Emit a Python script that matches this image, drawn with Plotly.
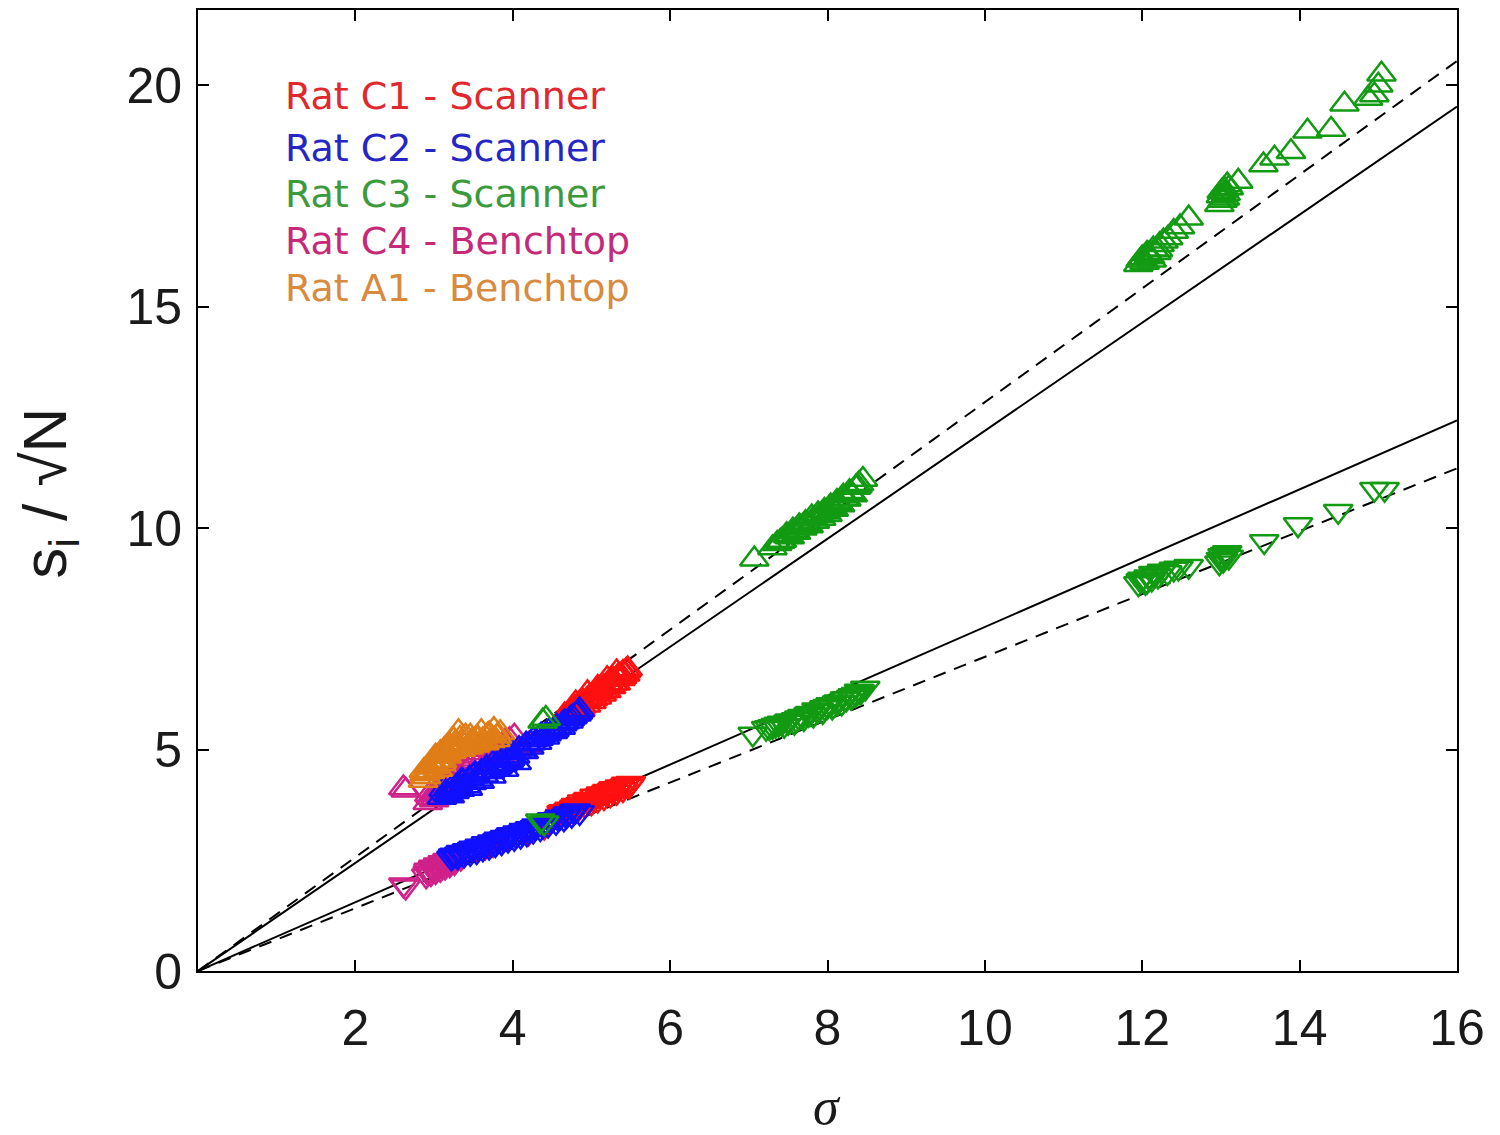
import plotly.graph_objects as go

# ---------------- data ----------------
# Rat C1 - Scanner
c1_up_x = [4.62, 4.66, 4.70, 4.74, 4.78, 4.82, 4.86, 4.90, 4.93, 4.97, 5.00, 5.04, 5.07, 5.10, 5.13, 5.16, 5.19, 5.22, 5.25, 5.28, 5.31, 5.34, 5.37, 5.40, 5.43, 5.46, 4.80, 4.95, 5.08, 5.20, 5.32, 3.92, 4.05, 4.20,
           4.64, 4.72, 4.79, 4.87, 4.94, 5.02, 5.09, 5.15, 5.21, 5.27, 5.33, 5.39, 5.44]
c1_up_y = [5.62, 5.78, 5.70, 5.88, 5.80, 5.98, 5.90, 6.08, 6.00, 6.18, 6.08, 6.26, 6.18, 6.35, 6.25, 6.42, 6.33, 6.50, 6.42, 6.58, 6.50, 6.66, 6.60, 6.74, 6.70, 6.82, 6.05, 6.28, 6.40, 6.60, 6.75, 4.80, 4.95, 5.10,
           5.70, 5.84, 5.95, 5.98, 6.12, 6.15, 6.30, 6.32, 6.45, 6.50, 6.62, 6.65, 6.78]
c1_dn_x = [4.60, 4.64, 4.68, 4.72, 4.76, 4.80, 4.84, 4.88, 4.92, 4.96, 5.00, 5.04, 5.08, 5.12, 5.16, 5.20, 5.24, 5.28, 5.32, 5.36, 5.40, 5.44, 5.48, 3.55, 3.65, 3.75, 3.85, 3.95, 4.20, 4.40,
           4.62, 4.70, 4.78, 4.86, 4.94, 5.02, 5.10, 5.18, 5.26, 5.34, 5.42, 5.50]
c1_dn_y = [3.50, 3.60, 3.56, 3.66, 3.62, 3.74, 3.68, 3.82, 3.74, 3.88, 3.80, 3.95, 3.86, 4.00, 3.92, 4.06, 3.98, 4.12, 4.04, 4.16, 4.10, 4.22, 4.18, 2.72, 2.80, 2.86, 2.92, 3.00, 3.12, 3.25,
           3.58, 3.62, 3.70, 3.76, 3.84, 3.88, 3.96, 4.02, 4.08, 4.12, 4.18, 4.24]

# Rat C2 - Scanner
c2_up_x = [3.10, 3.14, 3.18, 3.22, 3.26, 3.30, 3.33, 3.37, 3.41, 3.45, 3.48, 3.52, 3.56, 3.60, 3.63, 3.67, 3.71, 3.75, 3.79, 3.83, 3.87, 3.91, 3.95, 3.99, 4.03, 4.08, 4.12, 4.17, 4.21, 4.26, 4.31, 4.36, 4.41, 4.46, 4.51, 4.56, 4.61, 4.66, 4.71, 4.76, 4.81, 4.85,
           3.12, 3.20, 3.28, 3.35, 3.43, 3.50, 3.58, 3.65, 3.73, 3.81, 3.89, 3.97, 4.05, 4.14, 4.23, 4.33, 4.43, 4.53, 4.63, 4.73, 4.83]
c2_up_y = [3.92, 4.02, 3.98, 4.12, 4.05, 4.20, 4.10, 4.28, 4.18, 4.35, 4.25, 4.45, 4.33, 4.50, 4.42, 4.60, 4.50, 4.68, 4.58, 4.75, 4.66, 4.85, 4.75, 4.92, 4.85, 5.02, 4.96, 5.12, 5.05, 5.22, 5.16, 5.32, 5.28, 5.42, 5.40, 5.52, 5.50, 5.62, 5.64, 5.74, 5.80, 5.90,
           4.10, 3.95, 4.15, 4.30, 4.12, 4.40, 4.28, 4.52, 4.40, 4.62, 4.55, 4.80, 4.70, 4.95, 5.15, 5.25, 5.35, 5.45, 5.58, 5.70, 5.84]
c2_dn_x = [3.22, 3.26, 3.30, 3.34, 3.38, 3.42, 3.46, 3.50, 3.54, 3.58, 3.62, 3.66, 3.70, 3.74, 3.78, 3.82, 3.86, 3.90, 3.94, 3.98, 4.02, 4.06, 4.10, 4.14, 4.18, 4.22, 4.26, 4.30, 4.35, 4.40, 4.45, 4.50, 4.55, 4.60, 4.65, 4.70, 4.75, 4.80, 4.85,
           3.24, 3.32, 3.40, 3.48, 3.56, 3.64, 3.72, 3.80, 3.88, 3.96, 4.04, 4.12, 4.20, 4.28, 4.38, 4.48, 4.58, 4.68, 4.78]
c2_dn_y = [2.55, 2.62, 2.58, 2.68, 2.62, 2.72, 2.66, 2.78, 2.70, 2.82, 2.76, 2.88, 2.80, 2.92, 2.86, 2.98, 2.90, 3.02, 2.96, 3.08, 3.00, 3.12, 3.05, 3.18, 3.10, 3.22, 3.16, 3.28, 3.22, 3.34, 3.30, 3.42, 3.36, 3.48, 3.44, 3.55, 3.52, 3.62, 3.58,
           2.60, 2.64, 2.68, 2.75, 2.78, 2.82, 2.86, 2.94, 2.98, 3.04, 3.06, 3.12, 3.18, 3.24, 3.28, 3.38, 3.44, 3.50, 3.60]

# Rat C3 - Scanner
c3_up_x = [4.38, 4.42,
           7.07, 7.30, 7.36, 7.42, 7.48, 7.52, 7.56, 7.60, 7.64, 7.68, 7.72, 7.76, 7.80, 7.84, 7.88, 7.92, 7.96, 8.00, 8.04, 8.08, 8.12, 8.16, 8.20, 8.24, 8.28, 8.32, 8.36, 8.40, 8.45,
           7.40, 7.50, 7.58, 7.66, 7.74, 7.82, 7.90, 7.98, 8.06, 8.14, 8.22, 8.30, 8.38,
           11.95, 12.00, 12.03, 12.06, 12.10, 12.14, 12.18, 12.22, 12.27, 12.33, 12.40, 12.48, 12.59, 12.98, 13.00, 13.02, 13.04, 13.06, 13.08, 13.10, 13.22, 13.54, 13.68, 13.89, 14.10, 14.40, 14.57, 14.87, 14.95, 15.00, 15.04,
           11.98, 12.08, 12.12, 12.20, 13.01, 13.05]
c3_up_y = [5.64, 5.70,
           9.30, 9.55, 9.65, 9.72, 9.85, 9.80, 9.95, 9.90, 10.05, 10.00, 10.12, 10.05, 10.25, 10.15, 10.32, 10.22, 10.40, 10.30, 10.50, 10.42, 10.60, 10.52, 10.72, 10.65, 10.82, 10.75, 10.92, 11.00, 11.10,
           9.70, 9.82, 9.92, 10.02, 10.10, 10.20, 10.28, 10.36, 10.46, 10.55, 10.66, 10.78, 10.95,
           15.95, 16.10, 16.00, 16.20, 16.12, 16.30, 16.22, 16.40, 16.48, 16.55, 16.70, 16.80, 17.00, 17.30, 17.50, 17.40, 17.65, 17.55, 17.75, 17.68, 17.83, 18.20, 18.35, 18.50, 18.96, 19.00, 19.57, 19.70, 19.78, 20.00, 20.25,
           16.05, 16.18, 16.05, 16.28, 17.60, 17.45]
c3_dn_x = [4.35, 4.40,
           7.05, 7.22, 7.30, 7.38, 7.45, 7.52, 7.58, 7.64, 7.70, 7.76, 7.82, 7.88, 7.94, 8.00, 8.06, 8.12, 8.18, 8.24, 8.30, 8.36, 8.42, 8.48,
           7.26, 7.34, 7.42, 7.50, 7.60, 7.68, 7.78, 7.86, 7.96, 8.04, 8.14, 8.22, 8.32, 8.40,
           11.95, 12.00, 12.04, 12.08, 12.12, 12.16, 12.20, 12.25, 12.32, 12.40, 12.46, 12.59, 12.98, 13.00, 13.02, 13.05, 13.08, 13.10, 13.55, 13.98, 14.49, 14.95, 15.08,
           11.98, 12.06, 12.14, 13.03, 13.06]
c3_dn_y = [3.39, 3.35,
           5.35, 5.48, 5.52, 5.58, 5.55, 5.65, 5.62, 5.72, 5.70, 5.80, 5.78, 5.88, 5.86, 5.98, 5.96, 6.06, 6.05, 6.15, 6.18, 6.25, 6.30, 6.39,
           5.50, 5.55, 5.60, 5.62, 5.68, 5.75, 5.82, 5.90, 5.95, 6.02, 6.08, 6.15, 6.22, 6.32,
           8.75, 8.85, 8.78, 8.90, 8.85, 8.95, 8.92, 9.03, 9.00, 9.08, 9.10, 9.14, 9.22, 9.30, 9.38, 9.41, 9.45, 9.35, 9.70, 10.08, 10.38, 10.88, 10.88,
           8.82, 8.80, 8.98, 9.28, 9.40]

# Rat C4 - Benchtop
c4_up_x = [2.61, 2.64, 2.92, 2.96, 3.00, 3.04, 3.08, 3.12, 3.16, 3.20, 3.25, 3.30, 3.36, 3.42, 3.48, 3.54, 3.60, 3.66, 3.72, 3.78, 3.84, 3.90, 3.96, 4.02,
           2.94, 3.02, 3.10, 3.18, 3.28, 3.39, 3.51, 3.63, 3.75, 3.87]
c4_up_y = [4.13, 4.08, 3.80, 3.92, 3.86, 4.00, 3.95, 4.10, 4.05, 4.22, 4.35, 4.48, 4.62, 4.70, 4.78, 4.85, 4.92, 5.00, 5.05, 5.10, 4.88, 5.18, 5.22, 5.30,
           3.98, 4.05, 4.18, 4.30, 4.40, 4.55, 4.72, 4.82, 4.95, 5.05]
c4_dn_x = [2.61, 2.64, 2.90, 2.93, 2.96, 2.99, 3.02, 3.05, 3.08, 3.11, 3.14, 3.17, 3.20, 3.23, 3.26, 3.30, 3.34, 3.38,
           2.92, 2.98, 3.04, 3.10, 3.16, 3.22, 3.28, 3.35]
c4_dn_y = [1.95, 1.90, 2.15, 2.28, 2.20, 2.35, 2.25, 2.40, 2.30, 2.45, 2.35, 2.50, 2.40, 2.52, 2.45, 2.58, 2.55, 2.62,
           2.22, 2.30, 2.32, 2.38, 2.44, 2.46, 2.52, 2.58]

# Rat A1 - Benchtop
a1_up_x = [2.86, 2.88, 2.90, 2.93, 2.95, 2.98, 3.00, 3.02, 3.05, 3.08, 3.10, 3.13, 3.16, 3.19, 3.22, 3.25, 3.28, 3.31, 3.34, 3.37, 3.40, 3.44, 3.48, 3.52, 3.56, 3.60, 3.64, 3.68, 3.72, 3.76, 3.80, 3.84,
           2.87, 2.91, 2.97, 3.03, 3.09, 3.15, 3.21, 3.27, 3.33, 3.39, 3.46, 3.54, 3.62, 3.70, 3.78]
a1_up_y = [4.30, 4.45, 4.38, 4.60, 4.50, 4.72, 4.62, 4.85, 4.55, 4.92, 4.75, 5.00, 4.85, 5.10, 4.95, 5.22, 5.05, 5.40, 5.00, 5.15, 5.30, 5.05, 5.20, 5.10, 5.25, 5.40, 5.15, 5.32, 5.20, 5.45, 5.30, 5.38,
           4.52, 4.50, 4.65, 4.75, 4.68, 4.90, 5.05, 5.15, 5.25, 5.10, 5.30, 5.25, 5.22, 5.35, 5.22]

# fitted lines (end points)
fit_x = [0, 16]
upper_solid_y = [0, 19.52]
upper_dashed_y = [0, 20.55]
lower_solid_y = [0, 12.43]
lower_dashed_y = [0, 11.35]

labels = ["Rat C1 - Scanner", "Rat C2 - Scanner", "Rat C3 - Scanner",
          "Rat C4 - Benchtop", "Rat A1 - Benchtop"]
marker_colors = ["#ff1010", "#1010ff", "#139a13", "#d0208a", "#e07d16"]
label_colors = ["#e0282e", "#2626c4", "#3b9a3b", "#c42a78", "#d88a3e"]
label_y = [19.75, 18.58, 17.54, 16.48, 15.42]

xticks = [2, 4, 6, 8, 10, 12, 14, 16]
yticks = [0, 5, 10, 15, 20]

# ---------------- figure ----------------
fig = go.Figure()

for ys, dash in [(upper_solid_y, "solid"), (upper_dashed_y, "13px,9px"),
                 (lower_solid_y, "solid"), (lower_dashed_y, "13px,9px")]:
    fig.add_trace(go.Scatter(x=fit_x, y=ys, mode="lines",
                             line=dict(color="black", width=2, dash=dash),
                             showlegend=False, hoverinfo="skip"))

series = {
    0: (c1_up_x, c1_up_y, c1_dn_x, c1_dn_y),
    1: (c2_up_x, c2_up_y, c2_dn_x, c2_dn_y),
    2: (c3_up_x, c3_up_y, c3_dn_x, c3_dn_y),
    3: (c4_up_x, c4_up_y, c4_dn_x, c4_dn_y),
    4: (a1_up_x, a1_up_y, None, None),
}
draw_order = [3, 0, 1, 2, 4]

MS = 25
for i in draw_order:
    ux, uy, dx, dy = series[i]
    col = marker_colors[i]
    fig.add_trace(go.Scatter(x=ux, y=uy, mode="markers", name=labels[i],
                             marker=dict(symbol="triangle-up-open", size=MS,
                                         color=col, line=dict(width=2.5, color=col)),
                             showlegend=False))
    if dx is not None:
        fig.add_trace(go.Scatter(x=dx, y=dy, mode="markers", name=labels[i],
                                 marker=dict(symbol="triangle-down-open", size=MS,
                                             color=col, line=dict(width=2.5, color=col)),
                                 showlegend=False))

# legend as coloured text
for i, lab in enumerate(labels):
    fig.add_annotation(x=1.08, y=label_y[i], xref="x", yref="y", text=lab,
                       showarrow=False, xanchor="left", yanchor="middle",
                       font=dict(family="DejaVu Sans", size=38, color=label_colors[i]))

# axis titles
fig.add_annotation(x=-0.118, y=0.497, xref="paper", yref="paper",
                   text="s<sub>i</sub> / √N", textangle=-90, showarrow=False,
                   xanchor="center", yanchor="middle",
                   font=dict(family="Liberation Sans, Arial", size=62, color="#1a1a1a"))
fig.add_annotation(x=0.4996, y=-0.1405, xref="paper", yref="paper",
                   text="<i>σ</i>", showarrow=False,
                   xanchor="center", yanchor="middle",
                   font=dict(family="Liberation Serif, DejaVu Serif", size=52, color="#1a1a1a"))

axis_font = dict(family="Liberation Sans, Arial", size=50, color="#1a1a1a")
fig.update_xaxes(range=[0, 16], tickvals=xticks, ticktext=[str(v) for v in xticks],
                 ticks="inside", ticklen=11, tickwidth=1.5, tickcolor="black",
                 showline=True, linecolor="black", linewidth=2, mirror="ticks",
                 showgrid=False, zeroline=False, tickfont=axis_font,
                 ticklabelstandoff=12)
fig.update_yaxes(range=[0, 21.7], tickvals=yticks, ticktext=[str(v) for v in yticks],
                 ticks="inside", ticklen=11, tickwidth=1.5, tickcolor="black",
                 showline=True, linecolor="black", linewidth=2, mirror="ticks",
                 showgrid=False, zeroline=False, tickfont=axis_font,
                 ticklabelstandoff=4)

fig.update_layout(width=1500, height=1135,
                  margin=dict(l=190, r=51, t=2, b=172, autoexpand=False),
                  paper_bgcolor="white", plot_bgcolor="white",
                  showlegend=False)

fig.write_html("out.html")
